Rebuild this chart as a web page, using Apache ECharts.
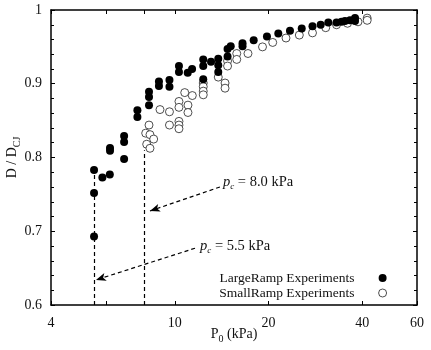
<!DOCTYPE html>
<html>
<head>
<meta charset="utf-8">
<script src="https://cdn.jsdelivr.net/npm/echarts@6/dist/echarts.min.js"></script>
<style>
    html, body { margin: 0; padding: 0; background: #fff; }
    #chart { width: 431px; height: 350px; }
</style>
</head>
<body>
<div id="chart"></div>
<script>
// LargeRamp experiments (filled circles)
var largeRampP0 = [5.50, 5.50, 5.50, 5.85, 6.18, 6.19, 6.19, 6.87, 6.87, 6.87, 7.58, 7.58,
    8.26, 8.26, 8.26, 8.89, 8.89, 9.61, 9.61, 10.31, 10.31, 11.0, 11.36, 12.34, 12.34, 12.34,
    13.07, 13.79, 13.79, 13.79, 14.77, 14.77, 15.12, 16.50, 16.50, 17.92, 19.77, 21.50, 23.44,
    25.57, 27.69, 29.42, 31.13, 33.08, 34.33, 35.22, 36.55, 37.93, 37.93];
var largeRampD = [0.693, 0.752, 0.783, 0.773, 0.777, 0.813, 0.809, 0.798, 0.821, 0.829, 0.855, 0.864,
    0.871, 0.882, 0.889, 0.897, 0.903, 0.896, 0.905, 0.916, 0.924, 0.915, 0.920, 0.906, 0.924, 0.933,
    0.930, 0.934, 0.925, 0.916, 0.937, 0.947, 0.951, 0.955, 0.951, 0.959, 0.964, 0.968, 0.972,
    0.975, 0.978, 0.980, 0.983, 0.983, 0.984, 0.985, 0.986, 0.989, 0.985];

// SmallRamp experiments (open circles)
var smallRampP0 = [8.06, 8.26, 8.32, 8.55, 8.12, 8.32, 8.96, 9.61, 9.61, 10.31, 10.31, 10.31,
    10.31, 10.31, 10.76, 11.38, 11.02, 11.02, 12.34, 12.34, 12.34, 12.34, 13.79, 14.50, 14.50,
    14.77, 14.77, 15.81, 15.81, 17.18, 19.13, 20.63, 22.76, 25.12, 27.69, 30.54, 33.08, 35.88,
    38.78, 41.5, 41.5];
var smallRampD = [0.833, 0.844, 0.831, 0.825, 0.818, 0.8125, 0.865, 0.862, 0.844, 0.876, 0.868, 0.849,
    0.844, 0.839, 0.888, 0.884, 0.871, 0.861, 0.901, 0.896, 0.890, 0.885, 0.909, 0.901, 0.894,
    0.931, 0.924, 0.941, 0.933, 0.941, 0.950, 0.956, 0.962, 0.966, 0.969, 0.976, 0.980, 0.982,
    0.984, 0.989, 0.986];

// critical pressures and the top of their dashed markers
var criticalP = [5.5, 8.0];
var criticalTop = [0.780, 0.810];

// axis ticks
var xTickValues = [4, 6, 8, 10, 20, 40, 60];
var xLabelValues = [4, 10, 20, 40, 60];

var fontFamily = '"Liberation Serif", "Times New Roman", serif';

function pairs(xs, ys) {
    var out = [];
    for (var i = 0; i < xs.length; i++) {
        out.push([xs[i], ys[i]]);
    }
    return out;
}

var myChart = echarts.init(document.getElementById('chart'));

var xAxisBase = {
    type: 'log',
    logBase: 10,
    min: 4,
    max: 60,
    axisLine: { lineStyle: { color: '#000', width: 1.5 } },
    axisTick: { inside: true, length: 4, customValues: xTickValues, lineStyle: { color: '#000' } },
    splitLine: { show: false }
};
var yAxisBase = {
    type: 'value',
    min: 0.6,
    max: 1,
    interval: 0.1,
    axisLine: { lineStyle: { color: '#000', width: 1.5 } },
    axisTick: { inside: true, length: 4, lineStyle: { color: '#000' } },
    minorTick: { show: true, splitNumber: 5, length: 3, lineStyle: { color: '#000' } },
    splitLine: { show: false }
};

var subRich = {
    a: { fontFamily: fontFamily, fontSize: 14, color: '#111', lineHeight: 16, verticalAlign: 'top' },
    s: { fontFamily: fontFamily, fontSize: 10, color: '#111', lineHeight: 10, padding: [8, 0, 0, 0] }
};

myChart.setOption({
    animation: false,
    backgroundColor: '#fff',
    textStyle: { fontFamily: fontFamily },
    grid: { left: 51, right: 14, top: 10, bottom: 45, outerBoundsMode: 'none', containLabel: false },
    legend: {
        orient: 'vertical',
        right: 39,
        top: 266,
        align: 'right',
        itemWidth: 46,
        itemHeight: 8,
        itemGap: 1,
        textStyle: { fontFamily: fontFamily, fontSize: 13.5, color: '#111' },
        data: [
            { name: 'LargeRamp Experiments' },
            { name: 'SmallRamp Experiments', itemStyle: { color: '#fff', borderColor: '#222', borderWidth: 0.8 } }
        ]
    },
    xAxis: [
        echarts.util.merge({
            position: 'bottom',
            name: '{a|P}{s|0}{a| (kPa)}',
            nameLocation: 'middle',
            nameGap: 22,
            nameMoveOverlap: false,
            nameTextStyle: { rich: subRich },
            axisLabel: {
                customValues: xLabelValues,
                margin: 11,
                fontFamily: fontFamily,
                fontSize: 14,
                color: '#111'
            }
        }, xAxisBase, true),
        echarts.util.merge({
            position: 'top',
            axisLabel: { show: false }
        }, xAxisBase, true)
    ],
    yAxis: [
        echarts.util.merge({
            position: 'left',
            name: '{a|D / D}{s|CJ}',
            nameLocation: 'middle',
            nameGap: 30,
            nameMoveOverlap: false,
            nameTextStyle: { rich: subRich },
            axisLabel: {
                margin: 9,
                fontFamily: fontFamily,
                fontSize: 14,
                color: '#111'
            }
        }, yAxisBase, true),
        echarts.util.merge({
            position: 'right',
            axisLabel: { show: false }
        }, yAxisBase, true)
    ],
    series: [
        {
            name: 'LargeRamp Experiments',
            type: 'scatter',
            symbol: 'circle',
            symbolSize: 8,
            itemStyle: { color: '#000', opacity: 1 },
            data: pairs(largeRampP0, largeRampD),
            z: 3,
            // dashed markers at the critical pressures, with arrows pointing at them
            markLine: {
                silent: true,
                symbol: ['none', 'none'],
                label: { show: false },
                lineStyle: { color: '#000', width: 1.2, type: [4, 3] },
                data: [
                    [{ coord: [criticalP[0], 0.6] }, { coord: [criticalP[0], criticalTop[0]] }],
                    [{ coord: [criticalP[1], 0.6] }, { coord: [criticalP[1], criticalTop[1]] }],
                    [{ coord: [11.61, 0.677], symbol: 'none' }, { coord: [5.58, 0.634], symbol: 'arrow', symbolSize: [6, 10] }],
                    [{ coord: [13.96, 0.760], symbol: 'none' }, { coord: [8.32, 0.7275], symbol: 'arrow', symbolSize: [6, 10] }]
                ]
            },
            markPoint: {
                silent: true,
                symbol: 'circle',
                symbolSize: 0,
                label: {
                    show: true,
                    position: 'right',
                    distance: 0,
                    formatter: function (p) {
                        return '{i|p}{s|c}{t| = ' + p.value.toFixed(1) + ' kPa}';
                    },
                    rich: {
                        i: { fontFamily: fontFamily, fontStyle: 'italic', fontSize: 14.5, color: '#111', lineHeight: 16, verticalAlign: 'top' },
                        s: { fontFamily: fontFamily, fontStyle: 'italic', fontSize: 9, color: '#111', lineHeight: 9, padding: [8, 0, 0, 0] },
                        t: { fontFamily: fontFamily, fontSize: 14.5, color: '#111', lineHeight: 16, verticalAlign: 'top' }
                    }
                },
                data: [
                    { coord: [12.05, 0.6786], value: criticalP[0] },
                    { coord: [14.28, 0.7654], value: criticalP[1] }
                ]
            }
        },
        {
            name: 'SmallRamp Experiments',
            type: 'scatter',
            symbol: 'circle',
            symbolSize: 8,
            itemStyle: { color: '#fff', borderColor: '#222', borderWidth: 0.8, opacity: 1 },
            data: pairs(smallRampP0, smallRampD),
            z: 2
        }
    ]
});
</script>
</body>
</html>
